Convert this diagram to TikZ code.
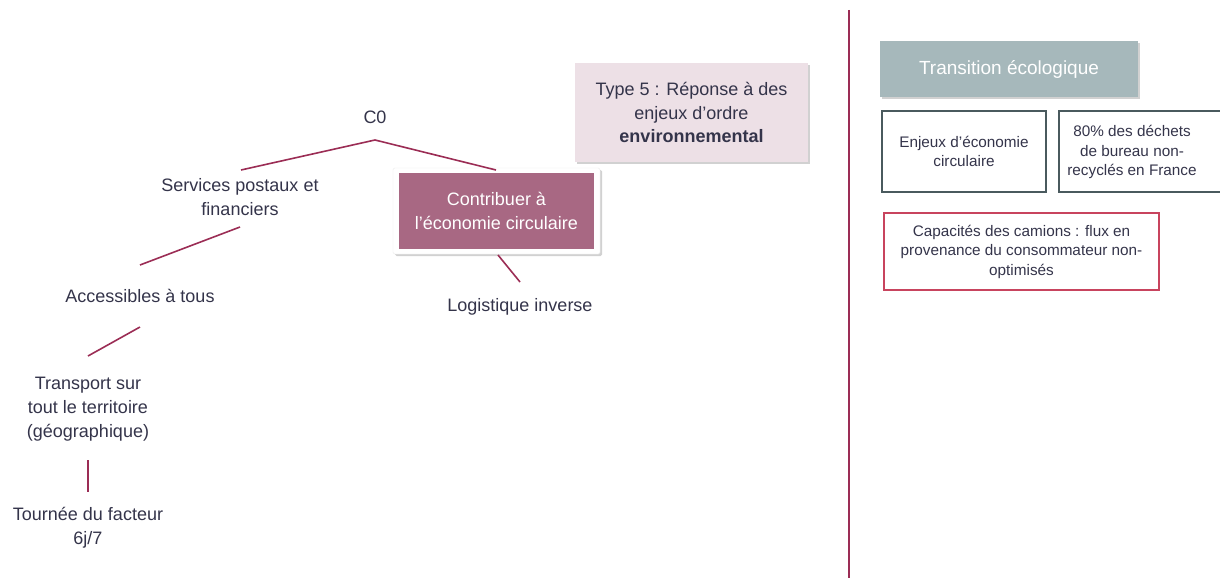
\documentclass[tikz,border=0pt]{standalone}
\usepackage{fontspec}
\setmainfont{Liberation Sans}
\usetikzlibrary{shadows}
\definecolor{txt}{HTML}{34344A}
\definecolor{link}{HTML}{9B2D55}
\definecolor{plum}{HTML}{A86883}
\definecolor{pinkbg}{HTML}{EDE0E6}
\definecolor{teal}{HTML}{A6B8BB}
\definecolor{grayedge}{HTML}{4A5A5E}
\definecolor{rededge}{HTML}{C8445E}
\tikzset{
  x=1pt, y=-1pt,
  lbl/.style={text=txt, font=\fontsize{18}{23.7}\selectfont, align=center, inner sep=0pt},
  small/.style={text=txt, font=\fontsize{15.3}{19.5}\selectfont, align=center, inner sep=0pt},
  conn/.style={draw=link, line width=1.6pt},
  shad/.style={drop shadow={shadow xshift=2pt, shadow yshift=-2pt, opacity=0.3, fill=black!60}}
}
\begin{document}
\begin{tikzpicture}
\useasboundingbox (0,0) rectangle (1220,578);
% tree
\node[lbl] (c0) at (375,117) {C0};
\coordinate (apex) at (375,140);
\node[lbl] (sp) at (240,197) {Services postaux et\\financiers};
\node[lbl] (acc) at (140,296) {Accessibles à tous};
\node[lbl] (tr) at (88,409) {Transport sur\\tout le territoire\\(géographique)};
\node[lbl] (tf) at (88,528) {Tournée du facteur\\6j/7};
\coordinate (spT) at (241,170);
\coordinate (spB) at (240,227);
\coordinate (accT) at (140,265);
\coordinate (accB) at (140,327);
\coordinate (trT) at (88,356);
\coordinate (trB) at (88,460);
\coordinate (tfT) at (88,492);
% contribuer box
\node[shad, fill=white, draw=black!8, minimum width=207pt, minimum height=86pt, inner sep=0pt, rounded corners=1.5pt] (cbox) at (496.5,211) {};
\node[fill=plum, minimum width=195pt, minimum height=76pt, inner sep=0pt, text=white, align=center, font=\fontsize{18}{23.5}\selectfont] (ce) at (496.5,211) {Contribuer à\\l’économie circulaire};
\coordinate (ceT) at (496,170);
\coordinate (ceB) at (498,255);
\coordinate (liT) at (520,282);
\node[lbl] (li) at (520,307) {Logistique inverse};
\draw[conn] (spT) -- (apex) -- (ceT);
\draw[conn] (spB) -- (accT);
\draw[conn] (accB) -- (trT);
\draw[conn] (trB) -- (tfT);
\draw[conn] (ceB) -- (liT);
% type 5
\node[shad, fill=pinkbg, minimum width=233pt, minimum height=99pt, inner sep=0pt, lbl] (t5) at (691.5,112.5) {Type 5 : Réponse à des\\enjeux d’ordre\\\textbf{environnemental}};
% separator
\coordinate (sepT) at (849,10);
\coordinate (sepB) at (849,578);
\draw[draw=link, line width=1.4pt] (sepT) -- (sepB);
% right panel
\node[shad, fill=teal, minimum width=258pt, minimum height=56pt, inner sep=0pt, text=white, font=\fontsize{19}{22}\selectfont] (te) at (1009,69) {Transition écologique};
\node[draw=grayedge, line width=1.2pt, minimum width=164pt, minimum height=81pt, inner sep=0pt, small] (en) at (964,151.5) {Enjeux d’économie\\circulaire};
\node[draw=grayedge, line width=1.2pt, minimum width=170pt, minimum height=81pt, inner sep=0pt, small] (p80) at (1144,151.5) {};
\node[small] (p80t) at (1132,152) {80\% des déchets\\de bureau non-\\recyclés en France};
\node[draw=rededge, line width=1.2pt, minimum width=275pt, minimum height=77pt, inner sep=0pt, small] (cap) at (1021.5,251.5) {Capacités des camions : flux en\\provenance du consommateur non-\\optimisés};
\end{tikzpicture}
\end{document}
